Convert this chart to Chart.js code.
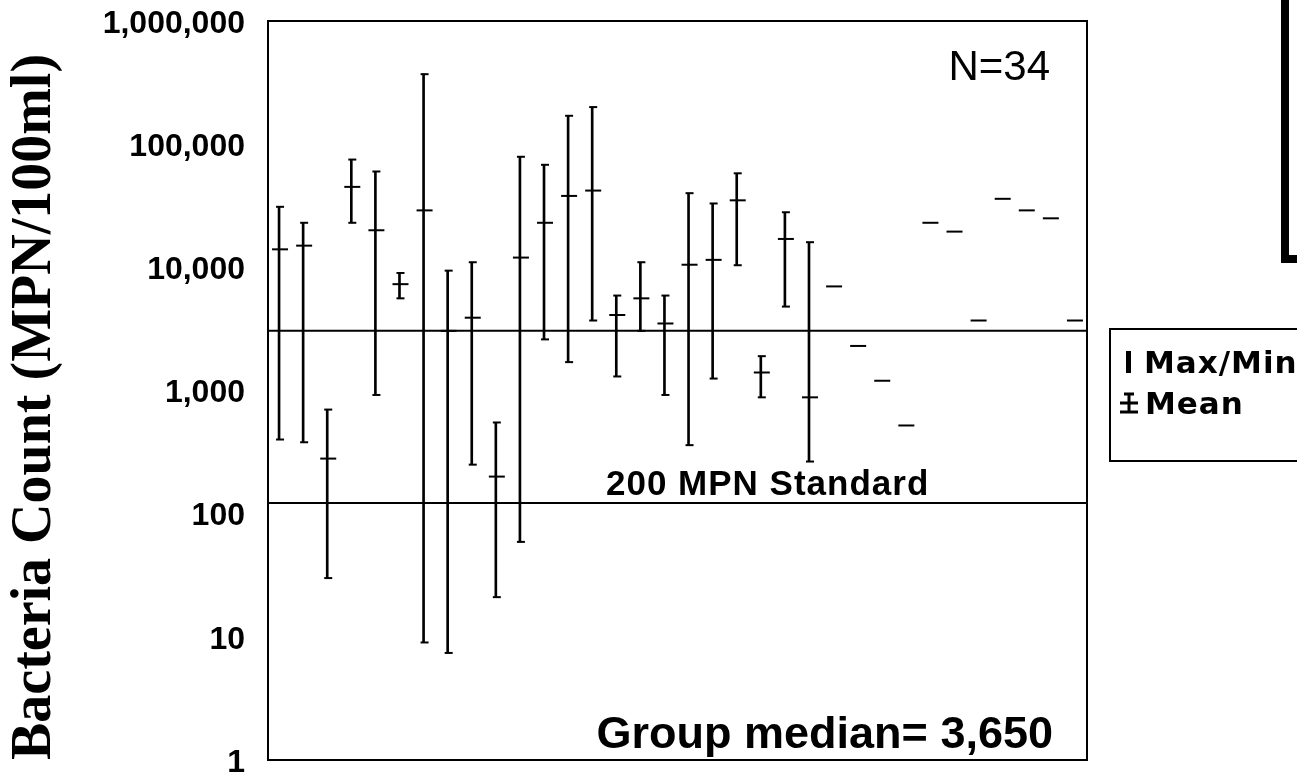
<!DOCTYPE html>
<html lang="en">
<head>
<meta charset="UTF-8">
<title>Bacteria Count</title>
<style>
  html, body { margin: 0; padding: 0; background: #fff; overflow: hidden; }
  #wrap { position: relative; width: 1297px; height: 777px; overflow: hidden; }
  #frame { position: absolute; left: 1281px; top: -40px; width: 60px; height: 303px;
           border-left: 8px solid #000; border-bottom: 8px solid #000; box-sizing: border-box; }
</style>
</head>
<body>
<div id="wrap">
  <canvas id="chart" width="1297" height="777"></canvas>
  <div id="frame"></div>
</div>
<script src="https://cdn.jsdelivr.net/npm/chart.js@4.4.0/dist/chart.umd.min.js"></script>
<script>
// 34 sampling sites
const sites = ['1','2','3','4','5','6','7','8','9','10','11','12','13','14','15','16','17',
               '18','19','20','21','22','23','24','25','26','27','28','29','30','31','32','33','34'];
const siteMax  = [31000, 23000, 700, 75000, 60000, 9000, 370000, 9400, 11000, 550, 79000, 68000,
                  170000, 200000, 5900, 11000, 5900, 40000, 33000, 58000, 1900, 28000, 16000,
                  null, null, null, null, null, null, null, null, null, null, null];
const siteMin  = [400, 380, 30, 23000, 920, 5600, 9, 7.4, 250, 21, 59, 2600,
                  1700, 3700, 1300, 3050, 920, 360, 1250, 10400, 880, 4800, 265,
                  null, null, null, null, null, null, null, null, null, null, null];
const siteMean = [14000, 15000, 280, 45000, 20000, 7300, 29000, 3050, 3900, 200, 12000, 23000,
                  38000, 42000, 4100, 5600, 3500, 10500, 11500, 35000, 1400, 17000, 880,
                  7000, 2300, 1200, 520, 23000, 19500, 3700, 36000, 29000, 25000, 3700];
const yTicks = [1, 10, 100, 1000, 10000, 100000, 1000000];
const medianLine = 3050;
const standardLine = 122;

const ranges = siteMax.map((mx, i) => mx == null ? null : [siteMin[i], mx]);

const overlay = {
    id: 'overlay',
    afterDraw(chart) {
        const ctx = chart.ctx;
        const a = chart.chartArea;
        const y = chart.scales.y;
        ctx.save();
        ctx.strokeStyle = '#000';
        ctx.fillStyle = '#000';
        ctx.lineWidth = 2;
        ctx.strokeRect(a.left, a.top, a.right - a.left, a.bottom - a.top);

        ctx.textBaseline = 'alphabetic';
        ctx.font = '42px "Liberation Sans"';
        ctx.textAlign = 'right';
        ctx.fillText('N=34', a.right - 37, a.top + 59);

        ctx.font = 'bold 45px "Liberation Sans"';
        ctx.fillText('Group median= 3,650', a.right - 34, a.bottom - 12);

        ctx.textAlign = 'left';
        ctx.letterSpacing = '1px';
        ctx.font = 'bold 35px "Liberation Sans"';
        ctx.fillText('200 MPN Standard', 606, y.getPixelForValue(standardLine) - 8);

        // legend box
        ctx.strokeRect(1110, 329, 260, 132);
        ctx.font = 'bold 31px "DejaVu Sans"';
        ctx.fillText('Max/Min', 1144, 373);
        ctx.fillText('Mean', 1145, 414);
        ctx.fillRect(1126, 351, 5, 22);
        ctx.lineWidth = 3;
        ctx.beginPath();
        ctx.moveTo(1129, 393); ctx.lineTo(1129, 413);
        ctx.moveTo(1124, 394); ctx.lineTo(1134, 394);
        ctx.moveTo(1120, 403); ctx.lineTo(1138, 403);
        ctx.moveTo(1120, 412); ctx.lineTo(1138, 412);
        ctx.stroke();
        ctx.restore();
    }
};

new Chart(document.getElementById('chart'), {
    data: {
        labels: sites,
        datasets: [
            { type: 'bar', data: ranges, backgroundColor: '#000', barThickness: 2, borderWidth: 0 },
            { type: 'line', data: siteMax, showLine: false, pointStyle: 'line', pointRadius: 4,
              pointHoverRadius: 4, pointBorderWidth: 2, borderColor: '#000' },
            { type: 'line', data: siteMin, showLine: false, pointStyle: 'line', pointRadius: 4,
              pointHoverRadius: 4, pointBorderWidth: 2, borderColor: '#000' },
            { type: 'line', data: siteMean, showLine: false, pointStyle: 'line', pointRadius: 8,
              pointHoverRadius: 8, pointBorderWidth: 2, borderColor: '#000' },
            { type: 'line', xAxisID: 'x2', data: [{x: 0, y: medianLine}, {x: 1, y: medianLine}],
              borderColor: '#000', borderWidth: 2, pointRadius: 0 },
            { type: 'line', xAxisID: 'x2', data: [{x: 0, y: standardLine}, {x: 1, y: standardLine}],
              borderColor: '#000', borderWidth: 2, pointRadius: 0 }
        ]
    },
    options: {
        responsive: false,
        devicePixelRatio: 1,
        animation: false,
        layout: { padding: { left: 0, right: 210, top: 21, bottom: 17 } },
        plugins: { legend: { display: false }, tooltip: { enabled: false } },
        scales: {
            x: { type: 'category', display: false },
            x2: { type: 'linear', min: 0, max: 1, display: false },
            y: {
                type: 'logarithmic',
                min: 1,
                max: 1000000,
                afterBuildTicks: s => { s.ticks = yTicks.map(v => ({ value: v })); },
                afterFit: s => { s.width = 268; s.paddingTop = 0; s.paddingBottom = 0; },
                grid: { display: false, drawTicks: false },
                border: { display: false },
                ticks: {
                    color: '#000',
                    padding: 23,
                    labelOffset: 3,
                    autoSkip: false,
                    font: { family: 'Liberation Sans', weight: 'bold', size: 32, lineHeight: 1 },
                    callback: v => Number(v).toLocaleString('en-US')
                },
                title: {
                    display: true,
                    text: 'Bacteria Count (MPN/100ml)',
                    align: 'start',
                    color: '#000',
                    padding: { top: 3, bottom: 0 },
                    font: { family: 'Liberation Serif', weight: 'bold', size: 56, lineHeight: 1.15 }
                }
            }
        }
    },
    plugins: [overlay]
});
</script>
</body>
</html>
